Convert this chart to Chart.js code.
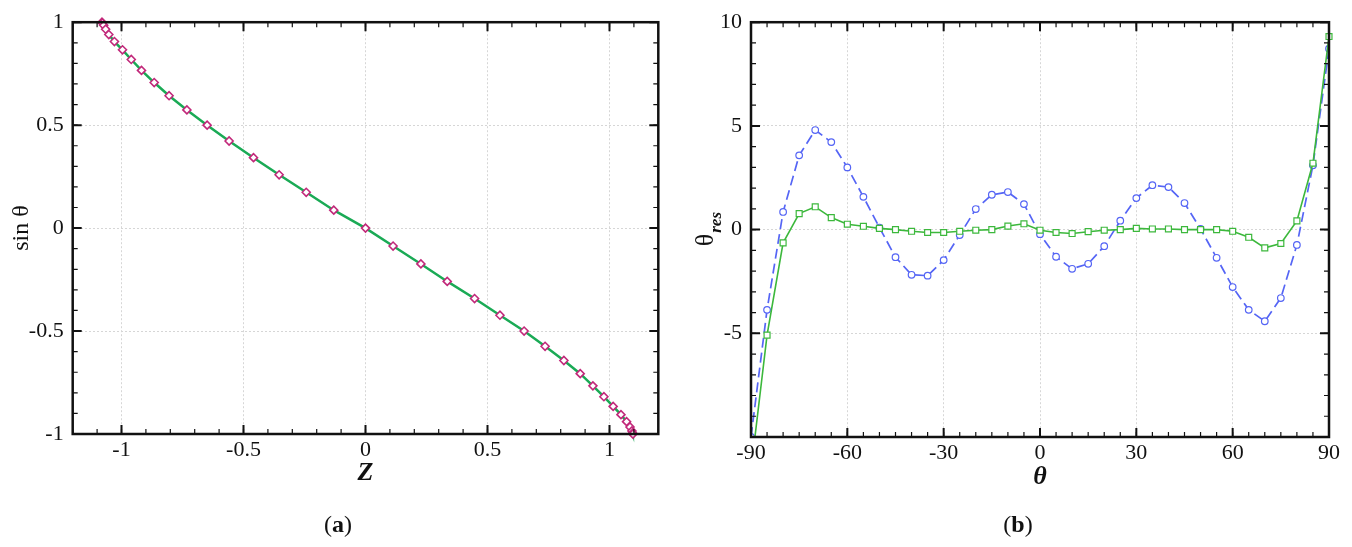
<!DOCTYPE html>
<html>
<head>
<meta charset="utf-8">
<script src="https://cdn.jsdelivr.net/npm/chart.js@4.4.1/dist/chart.umd.min.js"></script>
<style>
  body { margin: 0; background: #fff; }
  #wrap { position: relative; width: 1352px; height: 547px; }
  .panel { position: absolute; top: 0; width: 676px; height: 547px; }
  .tag { position: absolute; top: 512px; width: 100px; text-align: center;
         font: 24px 'Liberation Serif', 'DejaVu Serif', serif; line-height: 24px; color: #111; }
</style>
</head>
<body>
<div id="wrap">
  <div class="panel" style="left:0"><canvas id="chartA" width="676" height="547"></canvas></div>
  <div class="panel" style="left:676px"><canvas id="chartB" width="676" height="547"></canvas></div>
  <div class="tag" style="left:288px">(<b>a</b>)</div>
  <div class="tag" style="left:968px">(<b>b</b>)</div>
</div>
<script>
// panel (a): sin(theta) against Z
const zValues = [-1.080, -1.078, -1.073, -1.065, -1.052, -1.029, -0.996, -0.960, -0.918, -0.866,
  -0.805, -0.732, -0.649, -0.559, -0.459, -0.354, -0.243, -0.130, 0.000,
  0.113, 0.227, 0.335, 0.447, 0.551, 0.650, 0.736, 0.813, 0.880, 0.932,
  0.977, 1.015, 1.047, 1.070, 1.084, 1.092, 1.095, 1.096];
const sinValues = [1, 0.996, 0.985, 0.966, 0.940, 0.906, 0.866, 0.819, 0.766, 0.707,
  0.643, 0.574, 0.500, 0.423, 0.342, 0.259, 0.174, 0.087, 0,
  -0.087, -0.174, -0.259, -0.342, -0.423, -0.500, -0.574, -0.643, -0.707, -0.766,
  -0.819, -0.866, -0.906, -0.940, -0.966, -0.985, -0.996, -1];
const zTicks = [-1, -0.5, 0, 0.5, 1];
const sinTicks = [-1, -0.5, 0, 0.5, 1];

// panel (b): residual angle against theta
const thetaValues = [-90, -85, -80, -75, -70, -65, -60, -55, -50, -45, -40, -35, -30, -25, -20, -15, -10, -5,
  0, 5, 10, 15, 20, 25, 30, 35, 40, 45, 50, 55, 60, 65, 70, 75, 80, 85, 90];
const blueRes = [-10, -3.87, 0.85, 3.58, 4.80, 4.22, 3.00, 1.58, 0.10, -1.33, -2.18, -2.22, -1.47, -0.26, 0.99, 1.68, 1.81, 1.23,
  -0.22, -1.31, -1.89, -1.65, -0.80, 0.43, 1.52, 2.14, 2.05, 1.28, 0.03, -1.36, -2.77, -3.87, -4.42, -3.30, -0.74, 3.10, 8.72];
const greenRes = [-11.6, -5.09, -0.64, 0.77, 1.10, 0.58, 0.26, 0.16, 0.06, 0.00, -0.08, -0.14, -0.14, -0.08, -0.03, 0.00, 0.17, 0.28,
  -0.03, -0.14, -0.19, -0.10, -0.03, 0.00, 0.06, 0.03, 0.03, 0.00, 0.00, 0.00, -0.08, -0.37, -0.88, -0.67, 0.42, 3.20, 9.31];
const thetaTicks = [-90, -60, -30, 0, 30, 60, 90];
const resTicks = [-5, 0, 5, 10];

const serif = "'Liberation Serif', 'DejaVu Serif', serif";
const ink = '#111';
const gridColor = '#d6d6d6';

// frame with inward major/minor ticks on all four sides, plus optional composite y title
const frameTicks = {
  id: 'frameTicks',
  afterDraw(chart, args, opts) {
    const { ctx, chartArea: a, scales: { x, y } } = chart;
    ctx.save();
    ctx.strokeStyle = ink;

    function steps(scale, step) {
      const out = [];
      const n0 = Math.ceil(scale.min / step - 1e-6), n1 = Math.floor(scale.max / step + 1e-6);
      for (let n = n0; n <= n1; n++) out.push(n * step);
      return out;
    }
    function tickX(vals, len, w) {
      ctx.lineWidth = w;
      ctx.beginPath();
      vals.forEach(v => {
        const px = x.getPixelForValue(v);
        ctx.moveTo(px, a.bottom); ctx.lineTo(px, a.bottom - len);
        ctx.moveTo(px, a.top); ctx.lineTo(px, a.top + len);
      });
      ctx.stroke();
    }
    function tickY(vals, len, w) {
      ctx.lineWidth = w;
      ctx.beginPath();
      vals.forEach(v => {
        const py = y.getPixelForValue(v);
        ctx.moveTo(a.left, py); ctx.lineTo(a.left + len, py);
        ctx.moveTo(a.right, py); ctx.lineTo(a.right - len, py);
      });
      ctx.stroke();
    }
    tickX(steps(x, opts.xMinor), 5, 1.2);
    tickY(steps(y, opts.yMinor), 5, 1.2);
    tickX(steps(x, opts.xMajor), 9, 2);
    tickY(steps(y, opts.yMajor), 9, 2);

    ctx.lineWidth = 2.5;
    ctx.strokeRect(a.left, a.top, a.width, a.height);

    if (opts.yTitle) {
      const t = opts.yTitle;
      ctx.fillStyle = ink;
      ctx.translate(t.x, (a.top + a.bottom) / 2);
      ctx.rotate(-Math.PI / 2);
      ctx.textBaseline = 'alphabetic';
      ctx.font = '26px ' + serif;
      const w1 = ctx.measureText(t.main).width;
      ctx.font = 'italic bold 17px ' + serif;
      const w2 = ctx.measureText(t.sub).width;
      const x0 = -(w1 + w2) / 2;
      ctx.font = '26px ' + serif;
      ctx.fillText(t.main, x0, 0);
      ctx.font = 'italic bold 17px ' + serif;
      ctx.fillText(t.sub, x0 + w1 + 1, 8);
    }
    ctx.restore();
  }
};

function tickFont() {
  return { family: serif, size: 22 };
}

function axis(min, max, ticks, fitSize, isX, extra) {
  return Object.assign({
    type: 'linear',
    min: min,
    max: max,
    afterBuildTicks: s => { s.ticks = ticks.map(v => ({ value: v })); },
    afterFit: s => { if (isX) s.height = fitSize; else s.width = fitSize; },
    grid: { color: gridColor, lineWidth: 1, drawTicks: false },
    border: { display: false, dash: [2, 2] },
    ticks: { font: tickFont(), color: ink, padding: isX ? 3 : 9, callback: v => String(v) }
  }, extra);
}

new Chart(document.getElementById('chartA'), {
  type: 'scatter',
  data: {
    datasets: [{
      data: zValues.map((z, i) => ({ x: z, y: sinValues[i] })),
      showLine: true,
      borderColor: '#1aaa55',
      borderWidth: 2.5,
      pointStyle: 'rectRot',
      pointRadius: 4,
      pointBorderColor: '#c2287a',
      pointBackgroundColor: '#fff',
      pointBorderWidth: 1.6,
      clip: false
    }]
  },
  options: {
    responsive: false,
    animation: false,
    layout: { padding: { left: 0, right: 17.7, top: 20, bottom: 0 } },
    plugins: {
      legend: { display: false },
      tooltip: { enabled: false },
      frameTicks: { xMajor: 0.5, xMinor: 0.1, yMajor: 0.5, yMinor: 0.1 }
    },
    scales: {
      x: axis(-1.2, 1.2, zTicks, 113, true, {
        title: { display: true, text: 'Z', color: ink,
          font: { family: serif, size: 26, style: 'italic', weight: 'bold' }, padding: { top: 0, bottom: 58 } }
      }),
      y: axis(-1, 1, sinTicks, 72.7, false, {
        title: { display: true, text: 'sin θ', color: ink,
          font: { family: serif, size: 24 }, padding: { top: 7, bottom: 0 } }
      })
    }
  },
  plugins: [frameTicks]
});

new Chart(document.getElementById('chartB'), {
  type: 'scatter',
  data: {
    datasets: [{
      data: thetaValues.map((t, i) => ({ x: t, y: greenRes[i] })),
      showLine: true,
      borderColor: '#3cb83c',
      borderWidth: 1.6,
      pointStyle: 'rect',
      pointRadius: 4.2,
      pointBorderColor: '#3cb83c',
      pointBackgroundColor: '#fff',
      pointBorderWidth: 1.2,
      clip: { left: 6, right: 6, top: 6, bottom: 0 }
    }, {
      data: thetaValues.map((t, i) => ({ x: t, y: blueRes[i] })),
      showLine: true,
      borderColor: '#5565f5',
      borderWidth: 1.7,
      borderDash: [10, 5],
      pointStyle: 'circle',
      pointRadius: 3.3,
      pointBorderColor: '#5565f5',
      pointBackgroundColor: '#fff',
      pointBorderWidth: 1.2
    }]
  },
  options: {
    responsive: false,
    animation: false,
    layout: { padding: { left: 0, right: 23, top: 22, bottom: 0 } },
    plugins: {
      legend: { display: false },
      tooltip: { enabled: false },
      frameTicks: { xMajor: 30, xMinor: 5, yMajor: 5, yMinor: 1,
        yTitle: { main: 'θ', sub: 'res', x: 37 } }
    },
    scales: {
      x: axis(-90, 90, thetaTicks, 110, true, {
        title: { display: true, text: 'θ', color: ink,
          font: { family: serif, size: 26, style: 'italic', weight: 'bold' }, padding: { top: 0, bottom: 54 } }
      }),
      y: axis(-10, 10, resTicks, 75, false, {})
    }
  },
  plugins: [frameTicks]
});
</script>
</body>
</html>
